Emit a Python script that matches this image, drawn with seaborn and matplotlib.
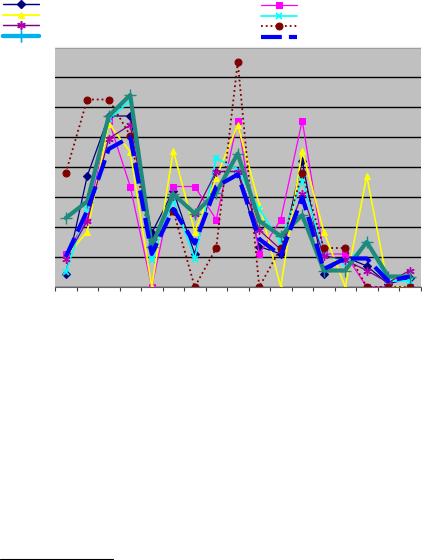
import matplotlib
matplotlib.use("Agg")
import matplotlib.pyplot as plt
from matplotlib.lines import Line2D
import seaborn as sns
import numpy as np
import pandas as pd

# ---- data ----
categories = list(range(17))
navy    = [0.45, 3.7, 5.7, 5.7, 1.8, 3.2, 1.1, 3.85, 3.85, 1.35, 1.1, 4.2, 0.45, 1.0, 0.7, 0.1, 0.3]
magenta = [1.1, 2.25, 5.55, 3.35, 0.0, 3.35, 3.35, 2.25, 5.55, 1.1, 2.25, 5.55, 1.1, 1.1, 0.0, 0.0, 0.0]
yellow  = [1.0, 1.85, 5.45, 4.5, 0.0, 4.55, 1.85, 3.65, 5.4, 2.75, 0.0, 4.55, 1.85, 0.0, 3.7, 0.0, 0.0]
cyan    = [0.5, 2.6, 5.6, 6.2, 0.9, 2.9, 0.95, 4.3, 3.9, 2.6, 1.5, 3.6, 1.1, 0.8, 1.45, 0.2, 0.2]
purple  = [0.95, 2.2, 4.95, 5.4, 1.5, 3.05, 2.45, 3.85, 3.85, 1.9, 1.25, 3.1, 1.05, 0.9, 0.55, 0.15, 0.55]
darkred = [3.8, 6.25, 6.25, 5.05, 1.3, 2.55, 0.0, 1.3, 7.5, 0.0, 1.3, 3.8, 1.3, 1.3, 0.0, 0.0, 0.0]
teal    = [2.3, 2.85, 5.7, 6.4, 1.35, 3.1, 2.45, 3.15, 4.45, 2.2, 1.7, 2.4, 0.55, 0.55, 1.5, 0.35, 0.35]
blue    = [1.0, 2.55, 4.6, 5.0, 1.1, 2.6, 1.45, 3.35, 3.75, 1.6, 1.05, 3.0, 0.6, 0.95, 0.95, 0.2, 0.35]
y_ticks = [0, 1, 2, 3, 4, 5, 6, 7, 8]

sns.set_style("white")
fig = plt.figure(figsize=(4.22, 5.6), dpi=100)
ax = fig.add_axes([55/422, (560-287)/560, 365.5/422, 240/560])
ax.set_facecolor("#C0C0C0")

styles = [
    (navy,    dict(color="#000080", mec="#000080", marker="D", markersize=3.8, linewidth=0.9, linestyle="-")),
    (magenta, dict(color="#FF00FF", mec="#FF00FF", marker="s", markersize=5, linewidth=0.9, linestyle="-")),
    (yellow,  dict(color="#FFFF00", mec="#FFFF00", marker="^", markersize=5, linewidth=1.2, linestyle="-")),
    (cyan,    dict(color="#00FFFF", mec="#00FFFF", marker="x", markersize=5, markeredgewidth=1.3, linewidth=1.2, linestyle="-")),
    (purple,  dict(color="#800080", mec="#B000B0", marker=(6, 2, 0), markersize=6, markeredgewidth=1.0, linewidth=0.9, linestyle="-")),
    (darkred, dict(color="#800000", mec="#800000", marker="o", markersize=5, linewidth=1.3, linestyle=":")),
    (teal,    dict(color="#1F8A7C", mec="#1F8A7C", marker="+", markersize=9, markeredgewidth=1.0, linewidth=3.0, linestyle="-")),
    (blue,    dict(color="#0000FF", linewidth=3.0, linestyle=(0, (5, 1.7)))),
]

lines = []
for vals, kw in styles:
    df = pd.DataFrame({"x": categories, "y": vals})
    sns.lineplot(data=df, x="x", y="y", ax=ax, legend=False, **kw)
    lines.append(ax.lines[-1])

ax.set_xlim(-0.5, 16.5)
ax.set_ylim(0, 8)
ax.set_yticks(y_ticks)
ax.set_yticklabels([])
ax.set_xticks(np.arange(-0.5, 17, 1))
ax.set_xticklabels([])
ax.set_xlabel("")
ax.set_ylabel("")
ax.grid(axis="y", color="black", linewidth=1.0)
ax.set_axisbelow(True)
ax.tick_params(axis="x", bottom=True, direction="out", length=3, width=0.8, color="#404040")
ax.tick_params(axis="y", left=False)
for s in ["left", "right"]:
    ax.spines[s].set_visible(False)
ax.spines["top"].set_color("#E8E8E8")
ax.spines["top"].set_linewidth(0.8)
ax.spines["bottom"].set_color("#606060")
ax.spines["bottom"].set_linewidth(0.8)

leg_kw = dict(loc="upper left", frameon=False, fontsize=5, handlelength=5.2,
              handleheight=0.7, labelspacing=0.65, borderpad=0, borderaxespad=0,
              handletextpad=0, bbox_transform=fig.transFigure)
left_idx = [0, 2, 4, 6]
right_idx = [1, 3, 5, 7]
leg1 = ax.legend([lines[i] for i in left_idx], [" "] * 4,
                 bbox_to_anchor=(3/422, 1 - 1.5/560), **leg_kw)
leg1.legend_handles[3].set_color("#00B0F0")
leg1.legend_handles[3].set_markeredgecolor("#00B0F0")
ax.add_artist(leg1)
leg2 = fig.legend([lines[i] for i in right_idx], [" "] * 4,
                  bbox_to_anchor=(261/422, 1 - 2.5/560), **leg_kw)

fig.add_artist(Line2D([0, 113/422], [0.8/560, 0.8/560], color="black", linewidth=0.8))

fig.savefig("out.png", dpi=100)
